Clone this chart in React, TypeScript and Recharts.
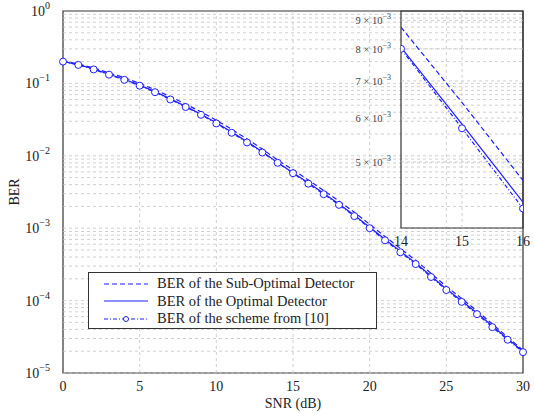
import React from 'react';
import {
  LineChart,
  Line,
  XAxis,
  YAxis,
  ReferenceArea,
  ReferenceLine,
} from 'recharts';

// SNR grid (dB)
const snr = [
  0, 1, 2, 3, 4, 5, 6, 7, 8, 9, 10, 11, 12, 13, 14, 15,
  16, 17, 18, 19, 20, 21, 22, 23, 24, 25, 26, 27, 28, 29, 30,
];

// BER of the Sub-Optimal Detector (dashed)
const berSubOptimal = [
  0.203, 0.186, 0.163, 0.14, 0.12, 0.1, 0.0818, 0.0655, 0.0518, 0.0405, 0.031,
  0.0232, 0.0171, 0.0124, 0.00875, 0.0064, 0.00463, 0.00333, 0.00237, 0.00166,
  0.00113, 0.00077, 0.000525, 0.00036, 0.000238, 0.000157, 0.000107, 0.000072,
  0.0000474, 0.0000314, 0.0000205,
];

// BER of the Optimal Detector (solid)
const berOptimal = [
  0.201, 0.182, 0.158, 0.134, 0.114, 0.0945, 0.077, 0.0612, 0.0482, 0.0376,
  0.0287, 0.0213, 0.0157, 0.0114, 0.00805, 0.00585, 0.00423, 0.00303, 0.00216,
  0.00151, 0.00103, 0.000702, 0.00048, 0.00033, 0.000219, 0.000145, 0.0000995,
  0.0000674, 0.0000446, 0.0000298, 0.0000198,
];

// BER of the scheme from [10] (dash-dot with circles)
const berScheme = [
  0.2, 0.18, 0.156, 0.132, 0.112, 0.093, 0.0756, 0.06, 0.0472, 0.0368, 0.028,
  0.0208, 0.0153, 0.0111, 0.008, 0.00575, 0.00412, 0.00295, 0.0021, 0.00147,
  0.001, 0.00068, 0.000465, 0.00032, 0.000212, 0.00014, 0.000096, 0.000065,
  0.000043, 0.0000288, 0.0000194,
];

const xTicks = [0, 5, 10, 15, 20, 25, 30];
const yTicks = [1, 0.1, 0.01, 0.001, 0.0001, 0.00001];
const xGrid = [5, 10, 15, 20, 25];
const insetXTicks = [14, 15, 16];
const insetYTicks = [0.005, 0.006, 0.007, 0.008, 0.009];

const data = snr.map((s, i) => ({
  snr: s,
  sub: berSubOptimal[i],
  opt: berOptimal[i],
  scheme: berScheme[i],
}));
const insetData = data.filter((d) => d.snr >= 14 && d.snr <= 16);

// minor + major horizontal grid values for the log axis
const gridY: number[] = [];
for (let e = -5; e < 0; e++) {
  for (let m = 1; m <= 9; m++) gridY.push(m * Math.pow(10, e));
}

const BLUE = '#1f1fff';
const FONT = '"Liberation Serif", "DejaVu Serif", serif';
const GRID = '#c4c4c4';
const AXIS = '#333';

const PowTick = (props: any) => {
  const { x, y, payload } = props;
  const exp = Math.round(Math.log10(payload.value));
  return (
    <text x={x - 5} y={y + 5} textAnchor="end" style={{ fontFamily: FONT }} fill="#222">
      <tspan fontSize={14}>10</tspan>
      <tspan fontSize={10} dy={-7}>
        {exp === 0 ? '0' : `\u2212${Math.abs(exp)}`}
      </tspan>
    </text>
  );
};

const InsetTick = (props: any) => {
  const { x, y, payload } = props;
  const m = Math.round(payload.value * 1000);
  return (
    <text x={x - 2} y={y + 4} textAnchor="end" style={{ fontFamily: FONT }} fill="#444">
      <tspan fontSize={10.5}>{`${m} \u00d7 10`}</tspan>
      <tspan fontSize={8} dy={-5}>{'\u22123'}</tspan>
    </text>
  );
};

const XTick = (props: any) => {
  const { x, y, payload } = props;
  return (
    <text x={x} y={y + 10} textAnchor="middle" style={{ fontFamily: FONT }} fontSize={14} fill="#222">
      {payload.value}
    </text>
  );
};

const dotStyle = { r: 3.5, stroke: BLUE, strokeWidth: 1, fill: '#fff', strokeDasharray: 'none' };

const legendRows = [
  { label: 'BER of the Sub-Optimal Detector', dash: '5 3', dot: false },
  { label: 'BER of the Optimal Detector', dash: undefined, dot: false },
  { label: 'BER of the scheme from [10]', dash: '4 2 1 2', dot: true },
];

export default function App() {
  return (
    <div style={{ position: 'absolute', left: 0, top: 0, width: 534, height: 413, background: '#fff', fontFamily: FONT }}>
      <LineChart width={534} height={413} data={data} margin={{ top: 11, right: 11, bottom: 0, left: 0 }} style={{ fontFamily: FONT }}>
        <XAxis
          dataKey="snr"
          type="number"
          domain={[0, 30]}
          ticks={xTicks}
          height={40}
          tickLine={false}
          axisLine={false}
          tick={<XTick />}
        />
        <YAxis
          scale="log"
          domain={[0.00001, 1]}
          ticks={yTicks}
          width={63}
          tickLine={false}
          axisLine={false}
          tick={<PowTick />}
        />
        {gridY.map((v) => (
          <ReferenceLine key={`h${v}`} y={v} stroke={GRID} strokeDasharray="3 3" strokeWidth={0.8} />
        ))}
        {xGrid.map((v) => (
          <ReferenceLine key={`v${v}`} x={v} stroke={GRID} strokeDasharray="3 3" strokeWidth={0.8} />
        ))}
        <ReferenceArea x1={0} x2={30} y1={0.00001} y2={1} fill="none" stroke={AXIS} strokeWidth={1.2} ifOverflow="visible" />
        <Line
          dataKey="sub"
          stroke={BLUE}
          strokeWidth={1.2}
          strokeDasharray="5 3"
          dot={false}
          isAnimationActive={false}
          type="linear"
        />
        <Line
          dataKey="opt"
          stroke={BLUE}
          strokeWidth={1.2}
          dot={false}
          isAnimationActive={false}
          type="linear"
        />
        <Line
          dataKey="scheme"
          stroke={BLUE}
          strokeWidth={1.2}
          strokeDasharray="4 2 1 2"
          dot={dotStyle}
          isAnimationActive={false}
          type="linear"
        />
      </LineChart>

      {/* axis titles */}
      <div style={{ position: 'absolute', left: 0, width: 534, top: 396, paddingLeft: 52, boxSizing: 'border-box', textAlign: 'center', fontSize: 14, color: '#222' }}>
        SNR (dB)
      </div>
      <div style={{ position: 'absolute', left: 15, top: 192, transform: 'translate(-50%, -50%) rotate(-90deg)', fontSize: 14, color: '#222' }}>
        BER
      </div>

      {/* inset zoom on 14..16 dB */}
      <div style={{ position: 'absolute', left: 341, top: 0 }}>
        <LineChart width={193} height={250} data={insetData} margin={{ top: 11, right: 11, bottom: 0, left: 0 }}>
          <XAxis
            dataKey="snr"
            type="number"
            domain={[14, 16]}
            ticks={insetXTicks}
            height={22}
            tickLine={false}
            axisLine={false}
            tick={<XTick />}
            allowDataOverflow
          />
          <YAxis
            scale="log"
            domain={[0.0038, 0.00936]}
            ticks={insetYTicks}
            width={60}
            tickLine={false}
            axisLine={false}
            tick={<InsetTick />}
            allowDataOverflow
          />
          {insetYTicks.map((v) => (
            <ReferenceLine key={`ih${v}`} y={v} stroke={GRID} strokeDasharray="3 3" strokeWidth={0.8} />
          ))}
          <ReferenceLine x={15} stroke={GRID} strokeDasharray="3 3" strokeWidth={0.8} />
          <ReferenceArea x1={14} x2={16} y1={0.0038} y2={0.00936} fill="none" stroke={AXIS} strokeWidth={1.2} ifOverflow="visible" />
          <Line dataKey="sub" stroke={BLUE} strokeWidth={1.2} strokeDasharray="5 3" dot={false} isAnimationActive={false} />
          <Line dataKey="opt" stroke={BLUE} strokeWidth={1.2} dot={false} isAnimationActive={false} />
          <Line dataKey="scheme" stroke={BLUE} strokeWidth={1.2} strokeDasharray="4 2 1 2" dot={dotStyle} isAnimationActive={false} />
        </LineChart>
      </div>

      {/* legend */}
      <div
        style={{
          position: 'absolute',
          left: 88,
          top: 272,
          width: 289,
          height: 57,
          border: `1px solid ${AXIS}`,
          background: '#fff',
          boxSizing: 'border-box',
          paddingTop: 2,
        }}
      >
        {legendRows.map((r) => (
          <div key={r.label} style={{ display: 'flex', alignItems: 'center', height: 17.5 }}>
            <svg width={60} height={14} style={{ marginLeft: 12 }}>
              <line x1={3} x2={47} y1={7} y2={7} stroke={BLUE} strokeWidth={1.2} strokeDasharray={r.dash} />
              {r.dot && <circle cx={25} cy={7} r={2.5} stroke={BLUE} fill="#fff" strokeWidth={1} />}
            </svg>
            <span style={{ fontSize: 14.5, color: '#222', marginLeft: -4 }}>{r.label}</span>
          </div>
        ))}
      </div>
    </div>
  );
}
